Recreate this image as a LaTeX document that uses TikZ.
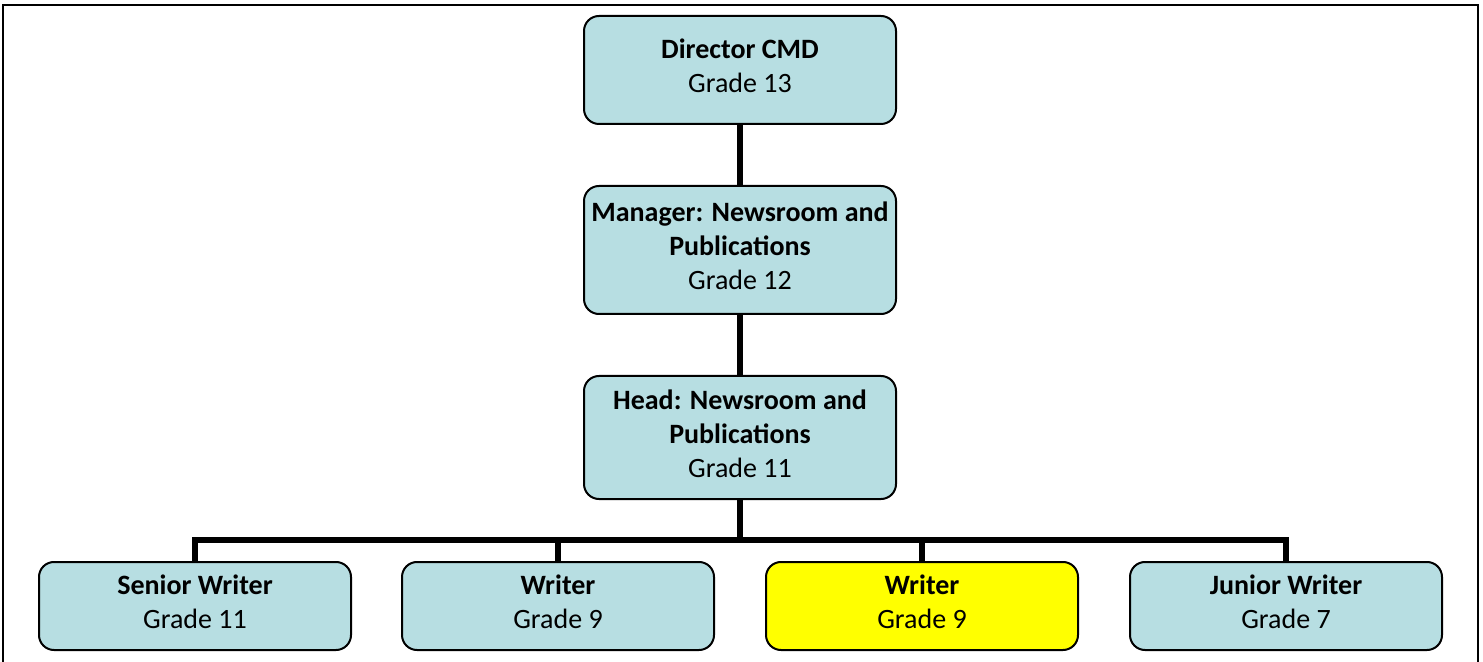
\documentclass[tikz,border=0pt]{standalone}
\usepackage{fontspec}
\setmainfont{Carlito}
\usetikzlibrary{positioning}
\definecolor{postblue}{RGB}{183,222,226}
\definecolor{postyellow}{RGB}{255,255,0}
\newcommand{\PT}[1]{\textbf{#1}}

\begin{document}
\begin{tikzpicture}[x=0.5pt, y=-0.5pt,
    post/.style={draw=black, line width=1pt, rounded corners=7.5pt, fill=postblue,
      minimum width=156pt, align=center, inner sep=0pt, text depth=4pt,
      font=\fontsize{14}{17}\selectfont},
    link/.style={line width=3pt}]

  \useasboundingbox (0,0) rectangle (1483,662);

  % frame
  \draw[line width=1pt] (3,662) -- (3,5) -- (1478,5) -- (1478,662);

  % top chain
  \node[post, minimum height=54pt] (dir)  at (740,70)  {\PT{Director CMD}\\Grade 13};
  \node[post, minimum height=64pt] (mgr)  at (740,250) {\PT{Manager: Newsroom and}\\\PT{Publications}\\Grade 12};
  \node[post, minimum height=61.5pt] (head) at (740,437.5) {\PT{Head: Newsroom and}\\\PT{Publications}\\Grade 11};

  % bottom row
  \node[post, minimum height=44pt] (sw)  at (195,606)  {\PT{Senior Writer}\\Grade 11};
  \node[post, minimum height=44pt] (wa)  at (558,606)  {\PT{Writer}\\Grade 9};
  \node[post, minimum height=44pt, fill=postyellow] (wb) at (922,606) {\PT{Writer}\\Grade 9};
  \node[post, minimum height=44pt] (jw)  at (1286,606) {\PT{Junior Writer}\\Grade 7};

  \coordinate (bus) at (740,540);

  \draw[link] (dir) -- (mgr);
  \draw[link] (mgr) -- (head);
  \draw[link] (head) -- (bus);
  \draw[link] (sw.north) |- (bus) -| (jw.north);
  \draw[link] (wa.north) -- (wa.north |- bus);
  \draw[link] (wb.north) -- (wb.north |- bus);

\end{tikzpicture}
\end{document}
